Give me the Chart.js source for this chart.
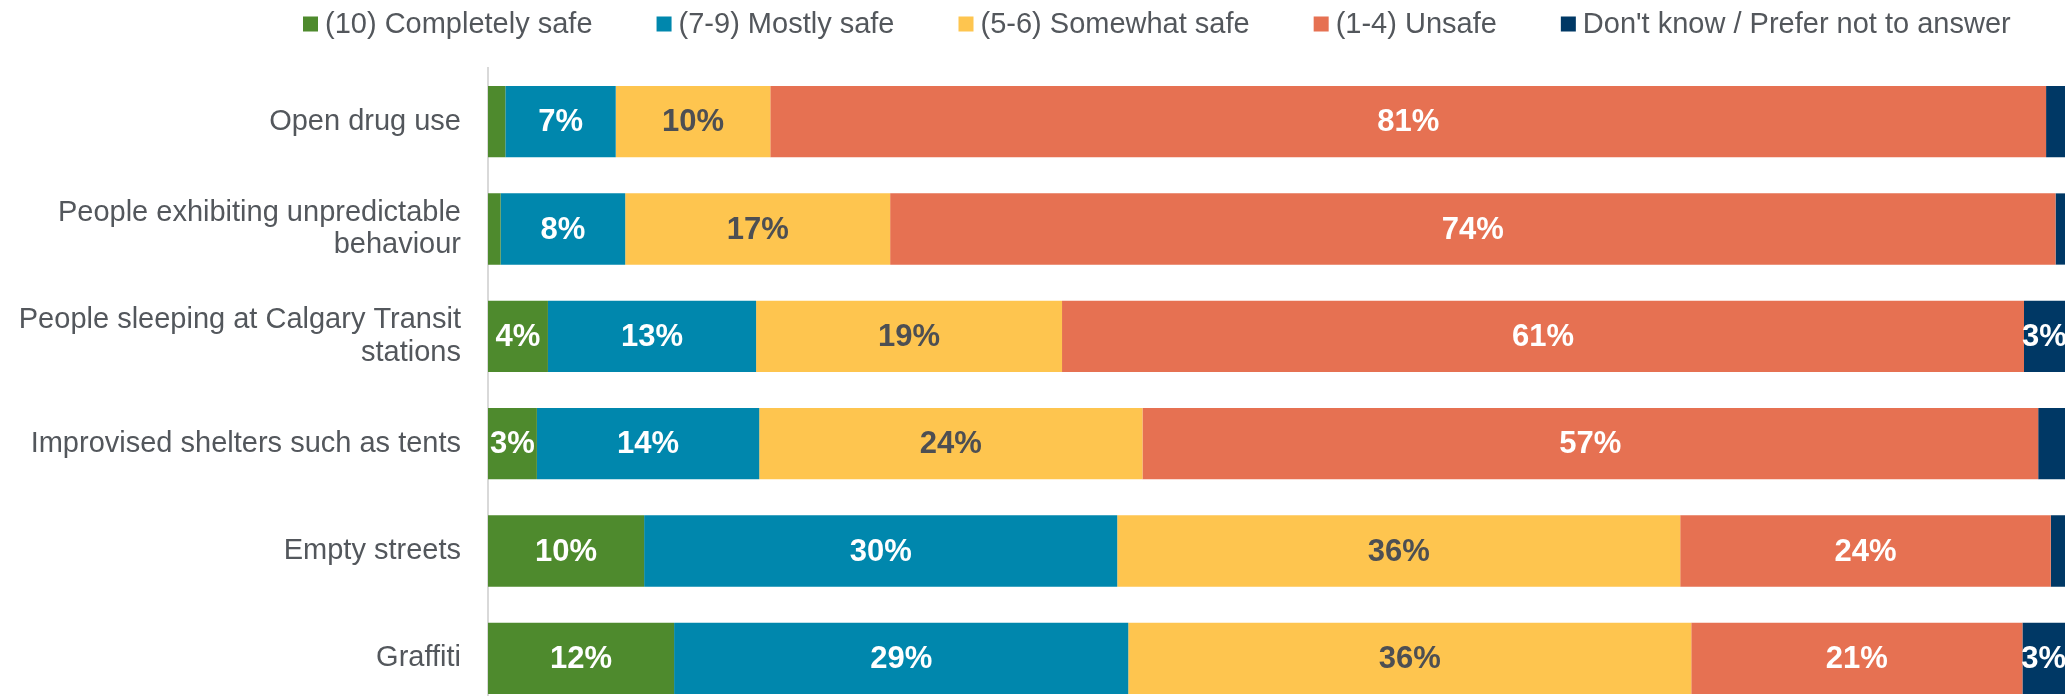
<!DOCTYPE html>
<html>
<head>
<meta charset="utf-8">
<script src="https://cdn.jsdelivr.net/npm/chart.js@4/dist/chart.umd.min.js"></script>
<style>
  html, body { margin: 0; padding: 0; background: #ffffff; overflow: hidden; }
  canvas { display: block; }
</style>
</head>
<body>
<canvas id="c" width="2072" height="712" style="width:2072px;height:712px"></canvas>
<script>
// ---- data (percent) ----
const categories = [
  'Open drug use',
  ['People exhibiting unpredictable', 'behaviour'],
  ['People sleeping at Calgary Transit', 'stations'],
  'Improvised shelters such as tents',
  'Empty streets',
  'Graffiti'
];
const seriesNames = [
  '(10) Completely safe',
  '(7-9) Mostly safe',
  '(5-6) Somewhat safe',
  '(1-4) Unsafe',
  "Don't know / Prefer not to answer"
];
const completelySafe = [1.1, 0.8, 3.8, 3.1, 9.9, 11.8];
const mostlySafe     = [7.0, 7.9, 13.2, 14.1, 30.0, 28.8];
const somewhatSafe   = [9.8, 16.8, 19.4, 24.3, 35.7, 35.7];
const unsafe         = [80.9, 73.9, 61.0, 56.8, 23.5, 21.0];
const dontKnow       = [1.2, 0.6, 2.6, 1.7, 0.9, 2.7];

const colors = ['#4E8A2D', '#0087AD', '#FEC54F', '#E67152', '#003865'];
const labelColors = ['#ffffff', '#ffffff', '#4D4F53', '#ffffff', '#ffffff'];
const textGray = '#53575C';
const FONT = "'Liberation Sans', Arial, Helvetica, sans-serif";

const seriesValues = [completelySafe, mostlySafe, somewhatSafe, unsafe, dontKnow];

const datasets = seriesValues.map((vals, i) => ({
  label: seriesNames[i],
  data: vals,
  backgroundColor: colors[i],
  borderWidth: 0,
  barPercentage: 0.664,
  categoryPercentage: 1.0
}));

// value labels inside segments
const valueLabels = {
  id: 'valueLabels',
  afterDatasetsDraw(chart) {
    const ctx = chart.ctx;
    ctx.save();
    ctx.font = 'bold 31px ' + FONT;
    ctx.textAlign = 'center';
    ctx.textBaseline = 'middle';
    chart.data.datasets.forEach((ds, di) => {
      const meta = chart.getDatasetMeta(di);
      meta.data.forEach((bar, i) => {
        const v = ds.data[i];
        if (v < 2.5) return;
        const cx = (bar.x + bar.base) / 2;
        ctx.fillStyle = labelColors[di];
        ctx.fillText(Math.round(v) + '%', cx, bar.y + 1);
      });
    });
    ctx.restore();
  }
};

// legend drawn at top
const topLegend = {
  id: 'topLegend',
  afterDraw(chart) {
    const ctx = chart.ctx;
    ctx.save();
    ctx.font = '29px ' + FONT;
    ctx.textBaseline = 'middle';
    ctx.textAlign = 'left';
    const cy = 24;
    const box = 15;
    let x = 303;
    chart.data.datasets.forEach((ds, i) => {
      ctx.fillStyle = ds.backgroundColor;
      ctx.fillRect(x, cy - box / 2, box, box);
      const tx = x + box + 7;
      ctx.fillStyle = textGray;
      ctx.fillText(ds.label, tx, cy + 1);
      x = tx + ctx.measureText(ds.label).width + 64;
    });
    ctx.restore();
  }
};

new Chart(document.getElementById('c'), {
  type: 'bar',
  data: { labels: categories, datasets },
  plugins: [valueLabels, topLegend],
  options: {
    indexAxis: 'y',
    responsive: false,
    animation: false,
    layout: { padding: { top: 68, right: 7, bottom: 0, left: 0 } },
    plugins: {
      legend: { display: false },
      tooltip: { enabled: false },
      title: { display: false }
    },
    scales: {
      x: {
        stacked: true,
        min: 0,
        max: 100,
        display: false
      },
      y: {
        stacked: true,
        afterFit(scale) {
          scale.width = 488;
          scale.paddingTop = 0;
          scale.paddingBottom = 0;
        },
        grid: { display: false, drawTicks: false },
        border: { display: true, color: '#D9D9D9', width: 2 },
        ticks: {
          padding: 27,
          color: textGray,
          font: { family: FONT, size: 29, lineHeight: 1.115 }
        }
      }
    }
  }
});
</script>
</body>
</html>
